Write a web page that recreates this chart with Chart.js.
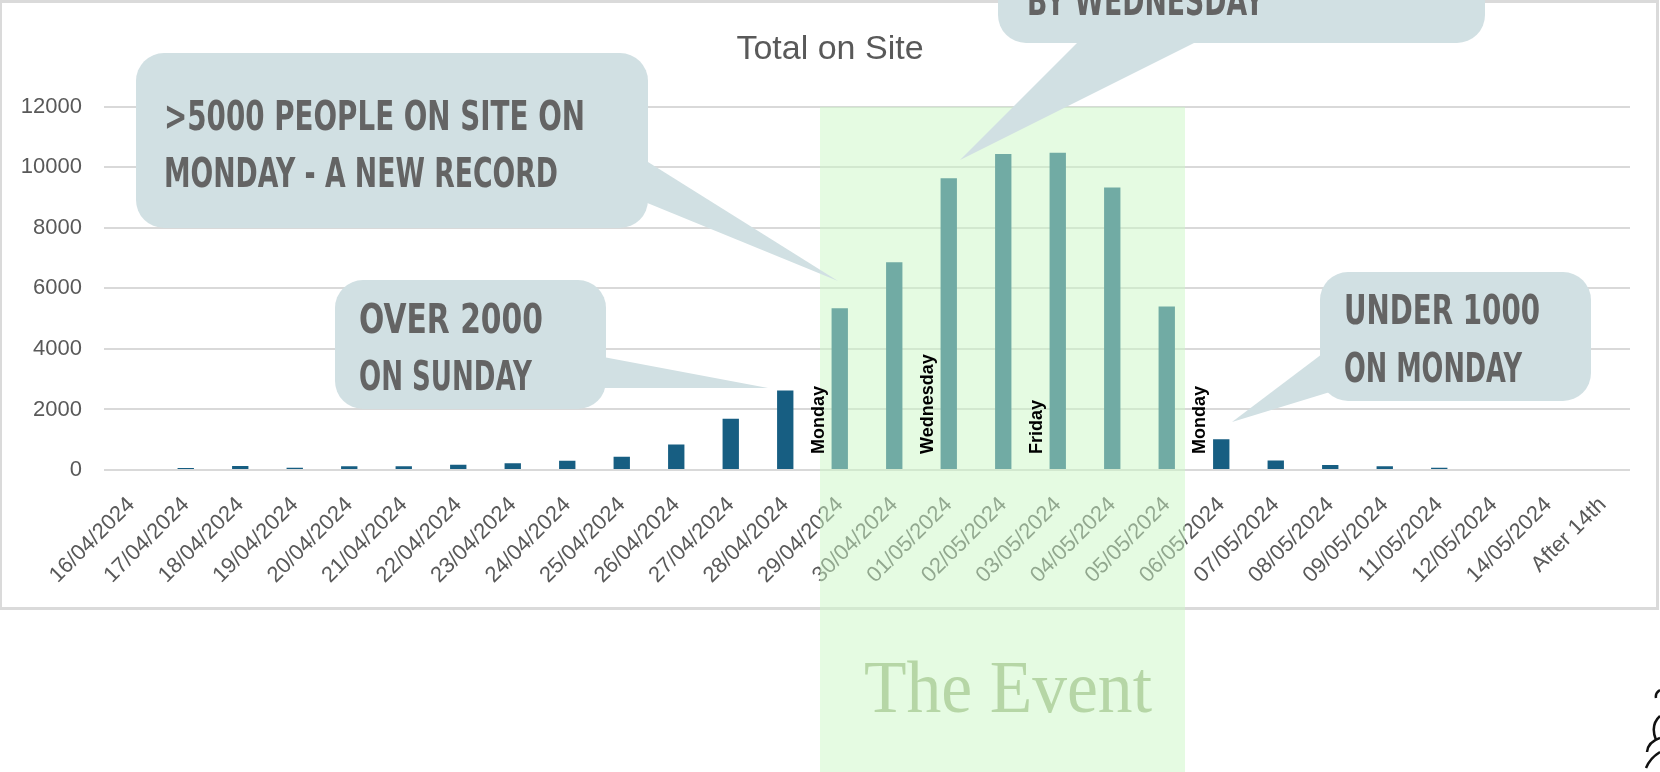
<!DOCTYPE html>
<html>
<head>
<meta charset="utf-8">
<script src="https://cdn.jsdelivr.net/npm/chart.js@4.4.1/dist/chart.umd.min.js"></script>
<style>
  html, body { margin: 0; padding: 0; background: #fff; }
</style>
</head>
<body>
<canvas id="myChart" width="1660" height="772"></canvas>
<script>
// data
const dates = [
    '16/04/2024', '17/04/2024', '18/04/2024', '19/04/2024', '20/04/2024', '21/04/2024',
    '22/04/2024', '23/04/2024', '24/04/2024', '25/04/2024', '26/04/2024', '27/04/2024',
    '28/04/2024', '29/04/2024', '30/04/2024', '01/05/2024', '02/05/2024', '03/05/2024',
    '04/05/2024', '05/05/2024', '06/05/2024', '07/05/2024', '08/05/2024', '09/05/2024',
    '11/05/2024', '12/05/2024', '14/05/2024', 'After 14th'
];
const totals = [
    0, 70, 130, 75, 125, 125,
    175, 220, 305, 440, 845, 1690,
    2630, 5345, 6865, 9640, 10440, 10480,
    9330, 5400, 1015, 310, 165, 120,
    75, 0, 0, 0
];
const yTicks = [0, 2000, 4000, 6000, 8000, 10000, 12000];

const dayNotes = [
    ['29/04/2024', 'Monday'],
    ['01/05/2024', 'Wednesday'],
    ['03/05/2024', 'Friday'],
    ['06/05/2024', 'Monday']
];

const bigNote = ['>5000 PEOPLE ON SITE ON', 'MONDAY - A NEW RECORD'];
const sundayNote = ['OVER 2000', 'ON SUNDAY'];
const mondayNote = ['UNDER 1000', 'ON MONDAY'];
const wednesdayNote = ['BY WEDNESDAY'];
const eventText = 'The Event';

const grey = '#595959';
const bubbleFill = '#d1e0e3';
const bubbleText = '#646464';

// rounded box + tail, text squeezed to the measured width
const drawBubble = (ctx, box, tail, lines) => {
    ctx.save();
    ctx.fillStyle = bubbleFill;
    ctx.beginPath();
    ctx.moveTo(tail[0][0], tail[0][1]);
    ctx.lineTo(tail[1][0], tail[1][1]);
    ctx.lineTo(tail[2][0], tail[2][1]);
    ctx.closePath();
    ctx.fill();
    ctx.beginPath();
    ctx.roundRect(box.x, box.y, box.w, box.h, 28);
    ctx.fill();

    ctx.fillStyle = bubbleText;
    ctx.font = 'bold 41px "DejaVu Sans"';
    ctx.textBaseline = 'alphabetic';
    lines.forEach((line, i) => {
        const l = box.lines[i];
        const m = ctx.measureText(line).width;
        ctx.save();
        ctx.translate(l[0], l[1]);
        ctx.scale(l[2] / m, 1);
        ctx.fillText(line, 0, 0);
        ctx.restore();
    });
    ctx.restore();
};

const framePlugin = {
    id: 'frame',
    beforeDraw(chart) {
        const { ctx } = chart;
        ctx.save();
        ctx.fillStyle = '#fff';
        ctx.fillRect(0, 0, chart.width, chart.height);
        ctx.strokeStyle = '#dadada';
        ctx.lineWidth = 3;
        ctx.strokeRect(0.5, 1.5, 1657, 607);
        ctx.restore();
    }
};

const eventPlugin = {
    id: 'eventOverlay',
    afterDraw(chart) {
        const { ctx, scales: { x, y } } = chart;
        ctx.save();

        // the event band
        ctx.fillStyle = 'rgba(203, 247, 197, 0.5)';
        ctx.fillRect(820, y.top, 365, chart.height - y.top);

        ctx.fillStyle = '#b6d6a6';
        ctx.font = '73px "Liberation Serif"';
        ctx.textAlign = 'left';
        ctx.textBaseline = 'alphabetic';
        ctx.fillText(eventText, 864, 712, 288);

        // weekday labels next to bars
        ctx.fillStyle = '#000';
        ctx.font = 'bold 18px "Liberation Sans"';
        ctx.textBaseline = 'middle';
        dayNotes.forEach(([d, txt]) => {
            const px = x.getPixelForValue(dates.indexOf(d)) - 21;
            ctx.save();
            ctx.translate(px, y.getPixelForValue(0) - 16);
            ctx.rotate(-Math.PI / 2);
            ctx.fillText(txt, 0, 0);
            ctx.restore();
        });

        drawBubble(ctx,
            { x: 136, y: 53, w: 512, h: 175, lines: [[164, 130, 421], [164, 187, 394]] },
            [[640, 157], [838, 281], [640, 200]], bigNote);
        drawBubble(ctx,
            { x: 335, y: 280, w: 271, h: 129, lines: [[359, 333, 184], [359, 390, 173]] },
            [[598, 356], [768, 388], [598, 388]], sundayNote);
        drawBubble(ctx,
            { x: 1320, y: 272, w: 271, h: 129, lines: [[1344, 324, 196], [1344, 382, 178]] },
            [[1330, 348], [1232, 422], [1330, 392]], mondayNote);
        drawBubble(ctx,
            { x: 998, y: -70, w: 487, h: 113, lines: [[1027, 15, 237]] },
            [[1080, 40], [960, 160], [1200, 40]], wednesdayNote);

        // corner of a logo peeking in
        ctx.strokeStyle = '#111';
        ctx.lineWidth = 2.5;
        ctx.beginPath();
        ctx.moveTo(1660, 690); ctx.quadraticCurveTo(1655, 693, 1656, 698);
        ctx.moveTo(1660, 716); ctx.quadraticCurveTo(1650, 725, 1656, 740);
        ctx.moveTo(1660, 738); ctx.quadraticCurveTo(1648, 742, 1647, 752);
        ctx.moveTo(1660, 752); ctx.quadraticCurveTo(1650, 758, 1646, 768);
        ctx.stroke();

        ctx.restore();
    }
};

const ctx = document.getElementById('myChart');

new Chart(ctx, {
    type: 'bar',
    data: {
        labels: dates,
        datasets: [{
            label: 'Total on Site',
            data: totals,
            backgroundColor: '#175e82',
            barPercentage: 0.3,
            categoryPercentage: 1
        }]
    },
    options: {
        responsive: false,
        animation: false,
        devicePixelRatio: 1,
        layout: { padding: 0 },
        plugins: {
            legend: { display: false },
            tooltip: { enabled: false },
            title: {
                display: true,
                text: 'Total on Site',
                color: grey,
                font: { family: 'Liberation Sans', size: 34, weight: 'normal' },
                padding: { top: 29, bottom: 37 }
            }
        },
        scales: {
            x: {
                grid: { display: false },
                border: { display: false },
                ticks: {
                    color: grey,
                    font: { family: 'Liberation Sans', size: 22 },
                    minRotation: 45,
                    maxRotation: 45,
                    autoSkip: false,
                    padding: 14
                },
                afterFit: (s) => { s.height = 302; }
            },
            y: {
                min: 0,
                max: 12000,
                grid: { color: '#d9d9d9', lineWidth: 2, drawTicks: false },
                border: { display: false },
                afterBuildTicks: (s) => { s.ticks = yTicks.map(v => ({ value: v })); },
                ticks: {
                    color: grey,
                    font: { family: 'Liberation Sans', size: 22 },
                    padding: 22,
                    callback: (v) => String(v)
                },
                afterFit: (s) => { s.width = 104; }
            },
            // empty strip on the right so the plot stops short of the frame
            yRight: {
                position: 'right',
                grid: { display: false },
                border: { display: false },
                ticks: { display: false },
                afterFit: (s) => { s.width = 30; }
            }
        }
    },
    plugins: [framePlugin, eventPlugin]
});
</script>
</body>
</html>
